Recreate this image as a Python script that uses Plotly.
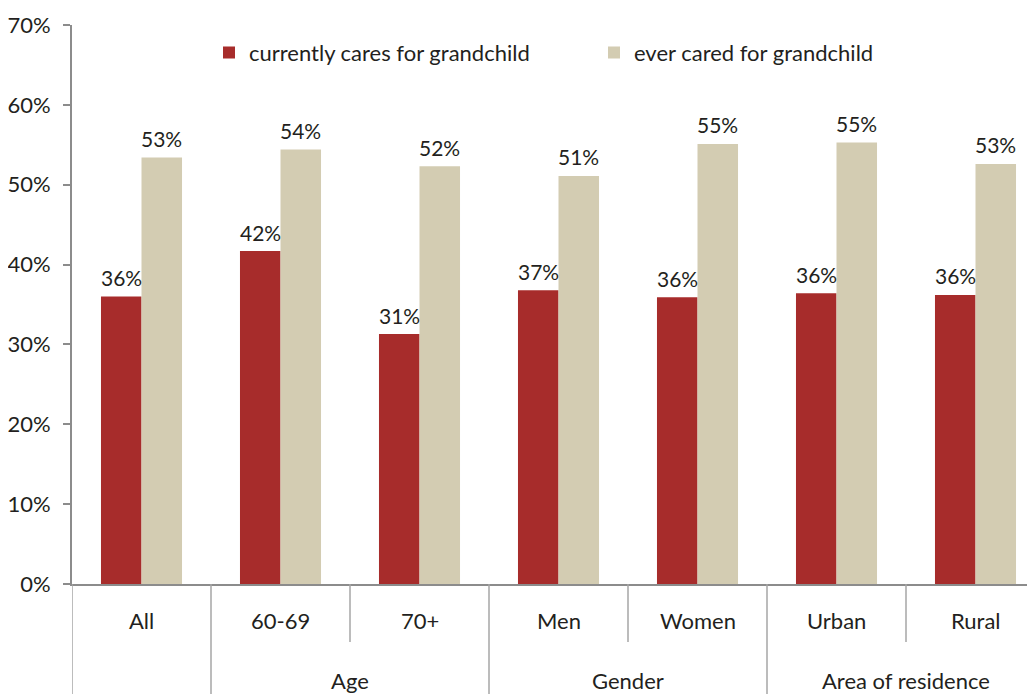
import plotly.graph_objects as go

groups = ["", "Age", "Age", "Gender", "Gender", "Area of residence", "Area of residence"]
categories = ["All", "60-69", "70+", "Men", "Women", "Urban", "Rural"]
currently = [36.0, 41.7, 31.3, 36.8, 35.9, 36.4, 36.2]
ever = [53.4, 54.4, 52.3, 51.1, 55.1, 55.3, 52.6]
yticks = [0, 10, 20, 30, 40, 50, 60, 70]
ytick_labels = [f"{v}%" for v in yticks]

FONT = "Lato, 'Open Sans', sans-serif"
TXT = "#231f20"
AXIS = "#8c8c8c"
DIV = "#a6a6a6"
RED = "#a72c2b"
BEIGE = "#d3ccb2"

# page body has an 8px margin; size the figure so it fills the window exactly
W, H = 1027, 686
ML, MR, MT, MB = 64, 0, 17, 110
plot_h = H - MT - MB
plot_w = W - ML - MR
SLOT = 139  # pixel width of one category slot in the reference (last slot runs off the edge)

def py(px_below_axis):
    return -px_below_axis / plot_h

fig = go.Figure()
fig.add_trace(go.Bar(x=categories, y=currently, name="currently cares for grandchild",
                     marker=dict(color=RED, line=dict(width=0))))
fig.add_trace(go.Bar(x=categories, y=ever, name="ever cared for grandchild",
                     marker=dict(color=BEIGE, line=dict(width=0))))

annotations = []
shapes = []
# value labels
for series, dx in ((currently, -20), (ever, 20)):
    for c, v in zip(categories, series):
        annotations.append(dict(x=c, xref="x", y=v, yref="y", text=f"{v:.0f}%",
                                showarrow=False, xshift=dx, yshift=19,
                                xanchor="center", yanchor="middle",
                                font=dict(size=21, color=TXT, family=FONT)))
# inner category labels
for c in categories:
    annotations.append(dict(x=c, xref="x", y=py(36), yref="paper", text=c,
                            showarrow=False, yanchor="middle", xanchor="center",
                            font=dict(size=22, color=TXT, family=FONT)))
spans = []
start = 0
for i in range(1, len(groups) + 1):
    if i == len(groups) or groups[i] != groups[start]:
        spans.append((groups[start], start, i - 1))
        start = i
for name, a, b in spans:
    if name:
        annotations.append(dict(x=(a + b) / 2, xref="x", y=py(96), yref="paper", text=name,
                                showarrow=False, yanchor="middle", xanchor="center",
                                font=dict(size=22, color=TXT, family=FONT)))
    shapes.append(dict(type="line", xref="x", yref="paper", x0=a - 0.5, x1=a - 0.5,
                       y0=0, y1=py(MB), line=dict(color=DIV, width=1.5)))
for name, a, b in spans:
    for k in range(a + 1, b + 1):
        shapes.append(dict(type="line", xref="x", yref="paper", x0=k - 0.5, x1=k - 0.5,
                           y0=0, y1=py(58), line=dict(color=DIV, width=1.5)))

fig.update_layout(
    width=W, height=H,
    margin=dict(l=ML, r=MR, t=MT, b=MB),
    paper_bgcolor="white", plot_bgcolor="white",
    font=dict(family=FONT, color=TXT, size=20),
    barmode="group", bargap=0.417, bargroupgap=0,
    showlegend=True,
    legend=dict(orientation="h", x=(209 - 72) / plot_w, xanchor="left",
                y=0.995 - 4 / plot_h, yanchor="top",
                font=dict(size=22, color=TXT, family=FONT),
                entrywidth=340, entrywidthmode="pixels", itemwidth=30,
                traceorder="normal", bgcolor="rgba(0,0,0,0)"),
    annotations=annotations, shapes=shapes,
)
fig.update_yaxes(
    range=[0, 70], tickvals=yticks, ticktext=ytick_labels, automargin=False,
    showgrid=False, zeroline=False, showline=True, linecolor=AXIS, linewidth=2,
    ticks="outside", ticklen=7, tickcolor=AXIS, tickwidth=1.5, ticklabelstandoff=8,
    tickfont=dict(size=22, color=TXT, family=FONT),
)
fig.update_xaxes(
    type="category", range=[-0.5, -0.5 + plot_w / SLOT], automargin=False,
    showgrid=False, showline=True, linecolor=AXIS, linewidth=2,
    showticklabels=False, ticks="",
)

fig.write_html("out.html")
